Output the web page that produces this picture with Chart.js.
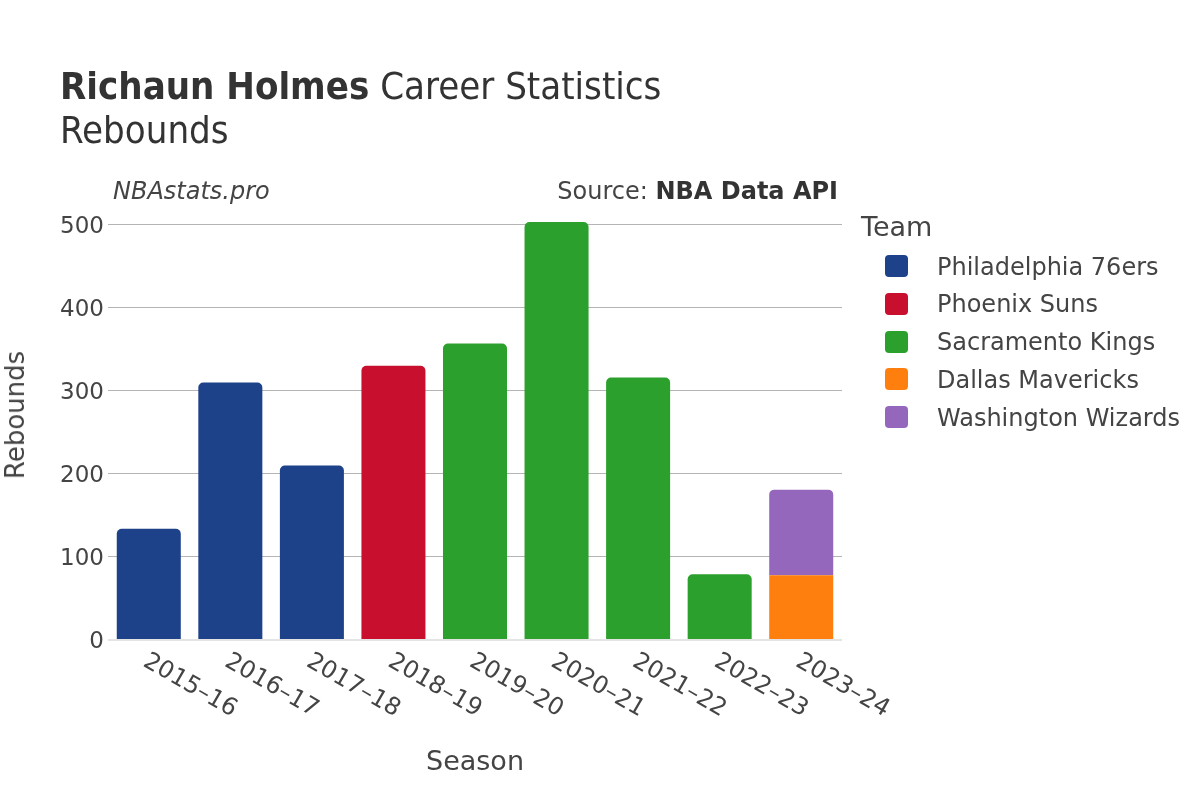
<!DOCTYPE html>
<html>
<head>
<meta charset="utf-8">
<script src="https://cdn.jsdelivr.net/npm/chart.js@4.4.1/dist/chart.umd.min.js"></script>
<style>
  body { margin: 0; background: #fff; }
  #wrap { position: relative; width: 1200px; height: 800px; font-family: "DejaVu Sans", sans-serif; color: #444; }
  canvas { position: absolute; left: 0; top: 0; }
  .t { position: absolute; white-space: nowrap; line-height: 1; }
  .sw { position: absolute; width: 23px; height: 22px; border-radius: 4px; }
  .cond { font-family: 'DejaVu Sans Condensed', 'DejaVu Sans'; font-stretch: condensed; }
</style>
</head>
<body>
<div id="wrap">
  <canvas id="chart" width="1200" height="800"></canvas>

  <div class="t cond" style="left:60px; top:67px; font-size:38px; color:#333;"><b>Richaun Holmes</b> Career Statistics</div>
  <div class="t cond" style="left:60px; top:111px; font-size:38px; color:#333;">Rebounds</div>

  <div class="t" style="left:113px; top:179px; font-size:24px; font-style:italic; color:#444;">NBAstats.pro</div>
  <div class="t" style="right:362px; top:179px; font-size:24px; color:#444;">Source: <b style="color:#333">NBA Data API</b></div>

  <div class="t" style="left:861px; top:213px; font-size:27px; color:#444;">Team</div>
  <div id="legend"></div>

  <div class="t" style="left:475px; top:747px; font-size:27px; transform:translateX(-50%);">Season</div>
  <div class="t" style="left:15px; top:415px; font-size:26px; transform:translate(-50%,-50%) rotate(-90deg);">Rebounds</div>
</div>

<script>
// seasons on the x axis
const seasons = ['2015–16', '2016–17', '2017–18', '2018–19', '2019–20', '2020–21', '2021–22', '2022–23', '2023–24'];

// rebounds per team, per season
const philadelphia = [134, 310, 210, null, null, null, null, null, null];
const phoenix      = [null, null, null, 330, null, null, null, null, null];
const sacramento   = [null, null, null, null, 357, 503, 316, 79, null];
const dallas       = [null, null, null, null, null, null, null, null, 78];
const washington   = [null, null, null, null, null, null, null, null, 103];

const teamNames  = ['Philadelphia 76ers', 'Phoenix Suns', 'Sacramento Kings', 'Dallas Mavericks', 'Washington Wizards'];
const teamColors = ['#1d428a', '#c8102e', '#2ca02c', '#ff7f0e', '#9467bd'];
const teamValues = [philadelphia, phoenix, sacramento, dallas, washington];

const yTicks = [0, 100, 200, 300, 400, 500];

// html legend
const legend = document.getElementById('legend');
teamNames.forEach((name, i) => {
    const top = 255 + i * 37.8;
    const sw = document.createElement('div');
    sw.className = 'sw';
    sw.style.left = '885px';
    sw.style.top = top + 'px';
    sw.style.background = teamColors[i];
    legend.appendChild(sw);
    const lb = document.createElement('div');
    lb.className = 't';
    lb.style.left = '937px';
    lb.style.top = (top - 0.5) + 'px';
    lb.style.fontSize = '24px';
    lb.textContent = name;
    legend.appendChild(lb);
});

// season labels slanted downwards to the right
const slantLabels = {
    id: 'slantLabels',
    afterDraw(chart) {
        const ctx = chart.ctx;
        const xs = chart.scales.x;
        ctx.save();
        ctx.font = '24px "DejaVu Sans"';
        ctx.fillStyle = '#444';
        ctx.textAlign = 'left';
        ctx.textBaseline = 'alphabetic';
        seasons.forEach((s, i) => {
            const x = xs.getPixelForValue(i);
            ctx.save();
            ctx.translate(x + 2, 650);
            ctx.rotate(Math.PI / 6);
            ctx.fillText(s, 0, 17.5);
            ctx.restore();
        });
        ctx.restore();
    }
};

new Chart(document.getElementById('chart'), {
    type: 'bar',
    data: {
        labels: seasons,
        datasets: teamNames.map((name, i) => ({
            label: name,
            data: teamValues[i],
            backgroundColor: teamColors[i],
            borderRadius: name === 'Dallas Mavericks' ? 0 : 5,
            borderSkipped: 'start',
            barPercentage: 0.785,
            categoryPercentage: 1,
        })),
    },
    options: {
        responsive: false,
        animation: false,
        devicePixelRatio: 1,
        layout: { padding: { left: 0, right: 358, top: 208, bottom: 0 } },
        plugins: { legend: { display: false }, tooltip: { enabled: false } },
        scales: {
            x: {
                stacked: true,
                grid: { display: false },
                border: { display: false },
                ticks: { display: false },
                afterFit(s) { s.height = 160; },
            },
            y: {
                stacked: true,
                min: 0,
                max: 520,
                border: { display: false },
                grid: {
                    drawTicks: false,
                    color: (c) => c.tick.value === 0 ? '#e4e4e4' : '#b4b4b4',
                    lineWidth: (c) => c.tick.value === 0 ? 2 : 1,
                },
                ticks: {
                    stepSize: 100,
                    padding: 4,
                    labelOffset: 2,
                    color: '#444',
                    font: { family: 'DejaVu Sans', size: 23 },
                },
                afterBuildTicks(s) { s.ticks = yTicks.map(v => ({ value: v })); },
                afterFit(s) { s.width = 108; },
            },
        },
    },
    plugins: [slantLabels],
});
</script>
</body>
</html>
